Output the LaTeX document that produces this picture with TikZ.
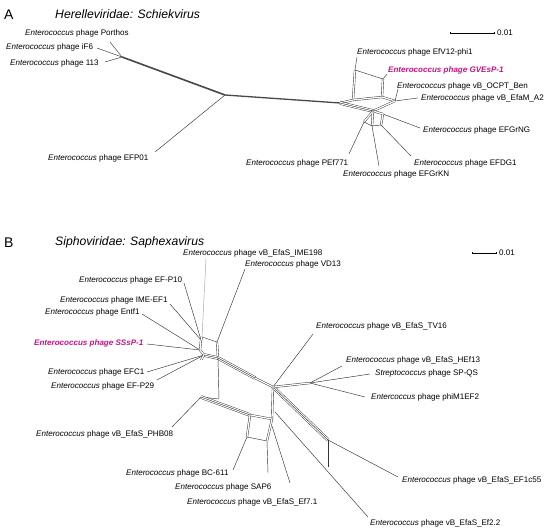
\documentclass[tikz,border=0pt]{standalone}
\usepackage{fontspec}
\setmainfont{Liberation Sans}
\usetikzlibrary{arrows.meta}
\definecolor{hilite}{RGB}{199,21,133}
\begin{document}
\begin{tikzpicture}[x=1pt,y=-1pt,
  lbl/.style={anchor=west,inner sep=0pt,font=\fontsize{8.05}{9.5}\selectfont},
  hot/.style={lbl,text=hilite,font=\fontsize{8.05}{9.5}\selectfont\bfseries\itshape},
  ttl/.style={anchor=west,inner sep=0pt,font=\fontsize{12.2}{14}\selectfont\itshape},
  letter/.style={anchor=west,inner sep=0pt,font=\fontsize{14}{16}\selectfont},
  edge/.style={line width=0.45pt,black!80},
  faint/.style={line width=0.45pt,black!35},
  band2/.style={line width=0.4pt,double distance=1.3pt,black!85},
  band3/.style={line width=0.4pt,double distance=2.6pt,black!85,postaction={draw,line width=0.4pt,double=none}},
  trunk/.style={line width=1.6pt,black!72},
  sbar/.style={line width=0.5pt,{Bar[width=2.5pt]}-{Bar[width=2.5pt]}}]
\useasboundingbox (0,0) rectangle (550,532);
\fill[white] (0,0) rectangle (550,532);

% ================= Panel A =================
\node[letter] (LA) at (4,15) {A};
\node[ttl] (TA) at (55,14) {Herelleviridae: Schiekvirus};
\coordinate (sa1) at (450,33); \coordinate (sa2) at (494,33);
\draw[sbar] (sa1) -- (sa2);
\node[lbl] (sA) at (497,33) {0.01};

\node[lbl] (Porthos) at (25,33) {\textit{Enterococcus} phage Porthos};
\node[lbl] (iF6) at (6,47) {\textit{Enterococcus} phage iF6};
\node[lbl] (p113) at (10,63) {\textit{Enterococcus} phage 113};
\node[lbl] (EFP01) at (48,158) {\textit{Enterococcus} phage EFP01};
\node[lbl] (EfV12) at (357,52) {\textit{Enterococcus} phage EfV12-phi1};
\node[hot] (GVEsP) at (388,70) {Enterococcus phage GVEsP-1};
\node[lbl] (Ben) at (397,86) {\textit{Enterococcus} phage vB\_OCPT\_Ben};
\node[lbl] (A2) at (421,98) {\textit{Enterococcus} phage vB\_EfaM\_A2};
\node[lbl] (EFGrNG) at (423,130) {\textit{Enterococcus} phage EFGrNG};
\node[lbl] (EFDG1) at (414,163) {\textit{Enterococcus} phage EFDG1};
\node[lbl] (PEf771) at (246,163) {\textit{Enterococcus} phage PEf771};
\node[lbl] (EFGrKN) at (343,174) {\textit{Enterococcus} phage EFGrKN};

% network A coordinates
\coordinate (hA1) at (122,57);
\coordinate (hA2) at (225,95);
\coordinate (hA3) at (340,103);
\coordinate (ePorthos) at (110,42);
\coordinate (eiF6) at (97,48);
\coordinate (e113) at (105,62);
\coordinate (eEFP01) at (155,152);
\coordinate (bxA) at (353,100);
\coordinate (bxB) at (355,70);
\coordinate (bxC) at (383,79);
\coordinate (bxD) at (382,97);
\coordinate (eEfV12) at (357,57);
\coordinate (eGVEsP) at (387,74);
\coordinate (jA1) at (373,111);
\coordinate (jA2) at (395,101);
\coordinate (eBen) at (398,89);
\coordinate (eA2) at (418,98);
\coordinate (jA3) at (383,114);
\coordinate (eEFGrNG) at (420,128);
\coordinate (jA4) at (364,122);
\coordinate (jA5) at (372,126);
\coordinate (jA6) at (381,125);
\coordinate (ePEf771) at (349,154);
\coordinate (eEFGrKN) at (379,166);
\coordinate (eEFDG1) at (411,156);

\draw[edge] (ePorthos) -- (hA1);
\draw[edge] (eiF6) -- (hA1);
\draw[edge] (e113) -- (hA1);
\draw[trunk] (hA1) -- (hA2);
\draw[trunk,line width=1.3pt] (hA2) -- (hA3);
\draw[edge] (hA2) -- (eEFP01);
\draw[band2] (hA3) -- (bxA);
\draw[band3] (hA3) -- (jA1);
\draw[band2] (bxA) -- (bxB);
\draw[edge] (bxB) -- (bxC);
\draw[band2] (bxC) -- (bxD);
\draw[band2] (bxA) -- (bxD);
\draw[edge] (bxB) -- (eEfV12);
\draw[edge] (bxC) -- (eGVEsP);
\draw[band2] (bxD) -- (jA2);
\draw[band2] (jA1) -- (jA2);
\draw[edge] (jA2) -- (eBen);
\draw[edge] (jA2) -- (eA2);
\draw[band2] (jA1) -- (jA3);
\draw[edge] (jA3) -- (eEFGrNG);
\draw[band2] (jA1) -- (jA4);
\draw[band2] (jA1) -- (jA5);
\draw[band2] (jA3) -- (jA6);
\draw[edge] (jA4) -- (jA5) -- (jA6);
\draw[edge] (jA4) -- (ePEf771);
\draw[edge] (jA5) -- (eEFGrKN);
\draw[edge] (jA6) -- (eEFDG1);

% ================= Panel B =================
\node[letter] (LB) at (4,243) {B};
\node[ttl] (TB) at (55,242) {Siphoviridae: Saphexavirus};
\coordinate (sb1) at (472,253); \coordinate (sb2) at (496,253);
\draw[sbar] (sb1) -- (sb2);
\node[lbl] (sB) at (499,253) {0.01};

\node[lbl] (IME198) at (183,253) {\textit{Enterococcus} phage vB\_EfaS\_IME198};
\node[lbl] (VD13) at (245,264) {\textit{Enterococcus} phage VD13};
\node[lbl] (EFP10) at (79,280) {\textit{Enterococcus} phage EF-P10};
\node[lbl] (IMEEF1) at (60,300) {\textit{Enterococcus} phage IME-EF1};
\node[lbl] (Entf1) at (45,312) {\textit{Enterococcus} phage Entf1};
\node[hot] (SSsP) at (34,343) {Enterococcus phage SSsP-1};
\node[lbl] (EFC1) at (48,372) {\textit{Enterococcus} phage EFC1};
\node[lbl] (EFP29) at (51,386) {\textit{Enterococcus} phage EF-P29};
\node[lbl] (PHB08) at (36,434) {\textit{Enterococcus} phage vB\_EfaS\_PHB08};
\node[lbl] (BC611) at (126,473) {\textit{Enterococcus} phage BC-611};
\node[lbl] (SAP6) at (175,487) {\textit{Enterococcus} phage SAP6};
\node[lbl] (Ef71) at (187,502) {\textit{Enterococcus} phage vB\_EfaS\_Ef7.1};
\node[lbl] (Ef22) at (370,523) {\textit{Enterococcus} phage vB\_EfaS\_Ef2.2};
\node[lbl] (EF1c55) at (402,480) {\textit{Enterococcus} phage vB\_EfaS\_EF1c55};
\node[lbl] (phiM) at (371,397) {\textit{Entercoccus} phage phiM1EF2};
\node[lbl] (SPQS) at (375,373) {\textit{Streptococcus} phage SP-QS};
\node[lbl] (HEf13) at (346,360) {\textit{Enterococcus} phage vB\_EfaS\_HEf13};
\node[lbl] (TV16) at (316,326) {\textit{Enterococcus} phage vB\_EfaS\_TV16};

% network B coordinates
\coordinate (hB0) at (201,340);
\coordinate (hB1) at (200,350);
\coordinate (hB2) at (204,355);
\coordinate (tbx1) at (202,337);
\coordinate (tbx2) at (217,342);
\coordinate (tbx3) at (218,358);
\coordinate (eIME198) at (206,259);
\coordinate (eVD13) at (245,269);
\coordinate (eEFP10) at (184,283);
\coordinate (eIMEEF1) at (170,304);
\coordinate (eEntf1) at (142,314);
\coordinate (eSSsP) at (147,344);
\coordinate (eEFC1) at (147,372);
\coordinate (eEFP29) at (157,380);
\coordinate (lb1) at (201,360);
\coordinate (lb2) at (201,397);
\coordinate (lb3) at (219,399);
\coordinate (ePHB08) at (172,427);
\coordinate (mB1) at (255,378);
\coordinate (mB2) at (273,387);
\coordinate (eTV16) at (313,334);
\coordinate (rB1) at (310,383);
\coordinate (eHEf13) at (342,366);
\coordinate (eSPQS) at (370,374);
\coordinate (ephiM) at (365,397);
\coordinate (dB1) at (328,440);
\coordinate (dB2) at (328,467);
\coordinate (eEF1c55) at (398,477);
\coordinate (fB1) at (275,412);
\coordinate (eEf22) at (368,517);
\coordinate (vB1) at (272,419);
\coordinate (lw1) at (250,415);
\coordinate (bx1) at (247,437);
\coordinate (bx2) at (267,441);
\coordinate (eBC611) at (233,470);
\coordinate (eSAP6) at (268,473);
\coordinate (sB7) at (272,426);
\coordinate (eEf71) at (290,483);

\draw[faint] (eIME198) -- (tbx1);
\draw[edge] (eVD13) -- (tbx2);
\draw[edge] (tbx1) -- (tbx2);
\draw[band2] (tbx2) -- (tbx3);
\draw[edge] (eEFP10) -- (hB0);
\draw[edge] (eIMEEF1) -- (hB0);
\draw[edge] (eEntf1) -- (hB1);
\draw[edge] (eSSsP) -- (hB1);
\draw[edge] (eEFC1) -- (hB2);
\draw[edge] (eEFP29) -- (hB2);
\draw[band2] (tbx1) -- (hB0) -- (hB1) -- (hB2);
\draw[band3] (hB2) -- (tbx3);
\draw[band3] (tbx3) -- (mB1);
\draw[band2] (mB1) -- (mB2);
\draw[band2] (hB2) -- (lb1);
\draw[band2] (lb1) -- (lb2);
\draw[edge] (tbx3) -- (lb3);
\draw[edge] (lb2) -- (lb3);
\draw[edge] (lb2) -- (ePHB08);
\draw[edge] (mB2) -- (eTV16);
\draw[band2] (mB2) -- (rB1);
\draw[edge] (rB1) -- (eHEf13);
\draw[edge] (rB1) -- (eSPQS);
\draw[edge] (rB1) -- (ephiM);
\draw[band3] (mB2) -- (dB1);
\draw[edge] (dB1) -- (dB2);
\draw[edge] (dB1) -- (eEF1c55);
\draw[edge] (fB1) -- (eEf22);
\draw[band2] (mB2) -- (vB1);
\draw[band3] (lb2) -- (lw1);
\draw[band2] (lw1) -- (vB1);
\draw[band2] (lw1) -- (bx1);
\draw[edge] (bx1) -- (bx2);
\draw[band2] (bx2) -- (vB1);
\draw[edge] (bx1) -- (eBC611);
\draw[edge] (bx2) -- (eSAP6);
\draw[edge] (sB7) -- (eEf71);
\end{tikzpicture}
\end{document}
